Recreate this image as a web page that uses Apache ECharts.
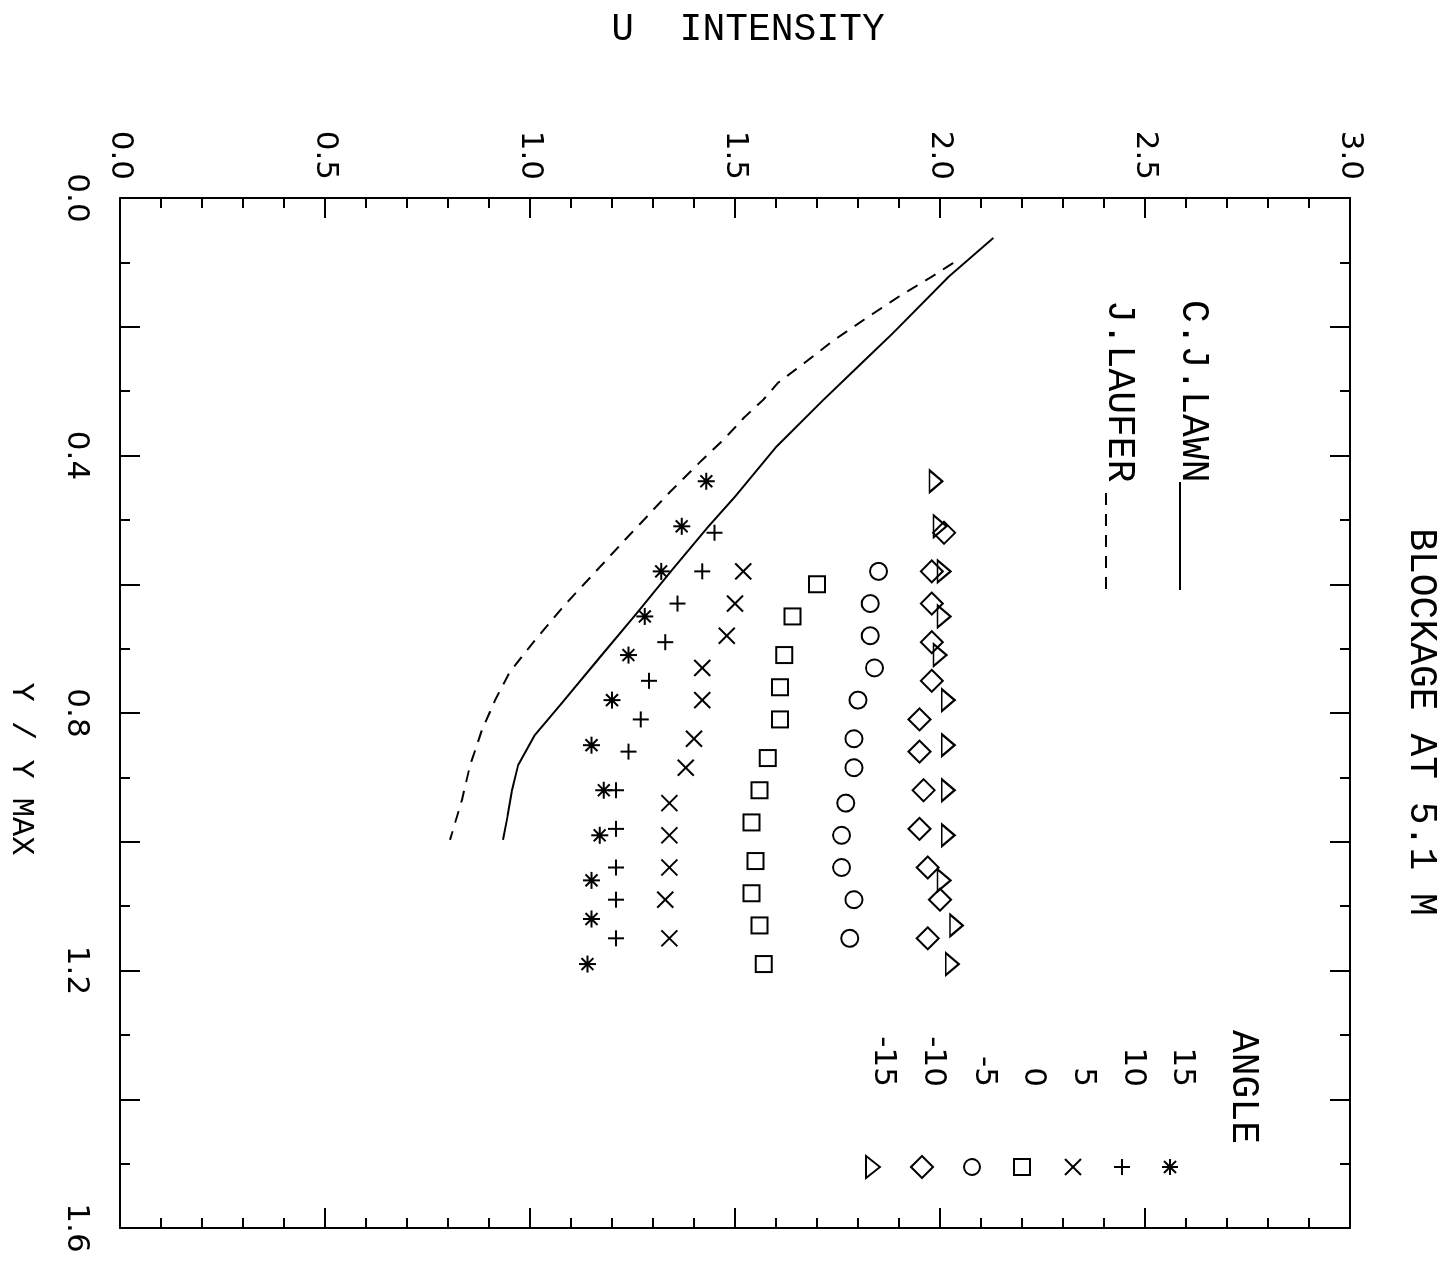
<!DOCTYPE html>
<html>
<head>
<meta charset="utf-8">
<script src="https://cdn.jsdelivr.net/npm/echarts@6/dist/echarts.min.js"></script>
<style>
  html, body { margin: 0; padding: 0; width: 1449px; height: 1267px; overflow: hidden; background: #fff; }
  /* the plot is laid out upright (Y/YMAX along x, U along y) and then turned a quarter-turn clockwise */
  #chart { position: absolute; left: 0; top: 0; width: 1267px; height: 1449px;
           transform-origin: 0 0; transform: translate(1449px, 0) rotate(90deg); }
</style>
</head>
<body>
<div id="chart"></div>
<script>
// ---- measured traverses: Y/YMAX position and U intensity, one pair per yaw angle ----
const ratio15  = [0.44, 0.51, 0.58, 0.65, 0.71, 0.78, 0.85, 0.92, 0.99, 1.06, 1.12, 1.19];
const u15      = [1.43, 1.37, 1.32, 1.28, 1.24, 1.20, 1.15, 1.18, 1.17, 1.15, 1.15, 1.14];
const ratio10  = [0.52, 0.58, 0.63, 0.69, 0.75, 0.81, 0.86, 0.92, 0.98, 1.04, 1.09, 1.15];
const u10      = [1.45, 1.42, 1.36, 1.33, 1.29, 1.27, 1.24, 1.21, 1.21, 1.21, 1.21, 1.21];
const ratio5   = [0.58, 0.63, 0.68, 0.73, 0.78, 0.84, 0.885, 0.94, 0.99, 1.04, 1.09, 1.15];
const u5       = [1.52, 1.50, 1.48, 1.42, 1.42, 1.40, 1.38, 1.34, 1.34, 1.34, 1.33, 1.34];
const ratio0   = [0.60, 0.65, 0.71, 0.76, 0.81, 0.87, 0.92, 0.97, 1.03, 1.08, 1.13, 1.19];
const u0       = [1.70, 1.64, 1.62, 1.61, 1.61, 1.58, 1.56, 1.54, 1.55, 1.54, 1.56, 1.57];
const ratioM5  = [0.58, 0.63, 0.68, 0.73, 0.78, 0.84, 0.885, 0.94, 0.99, 1.04, 1.09, 1.15];
const uM5      = [1.85, 1.83, 1.83, 1.84, 1.80, 1.79, 1.79, 1.77, 1.76, 1.76, 1.79, 1.78];
const ratioM10 = [0.52, 0.58, 0.63, 0.69, 0.75, 0.81, 0.86, 0.92, 0.98, 1.04, 1.09, 1.15];
const uM10     = [2.01, 1.98, 1.98, 1.98, 1.98, 1.95, 1.95, 1.96, 1.95, 1.97, 2.00, 1.97];
const ratioM15 = [0.44, 0.51, 0.58, 0.65, 0.71, 0.78, 0.85, 0.92, 0.99, 1.06, 1.13, 1.19];
const uM15     = [1.99, 2.00, 2.01, 2.01, 2.00, 2.02, 2.02, 2.02, 2.02, 2.01, 2.04, 2.03];

// ---- reference profiles ----
const lawnRatio   = [0.062, 0.123, 0.210, 0.259, 0.314, 0.387, 0.464, 0.511, 0.576, 0.646, 0.713, 0.788, 0.834, 0.881, 0.920, 0.958, 0.997];
const lawnU       = [2.13, 2.02, 1.885, 1.805, 1.715, 1.60, 1.50, 1.434, 1.349, 1.259, 1.171, 1.073, 1.012, 0.971, 0.956, 0.946, 0.934];
const lauferRatio = [0.101, 0.123, 0.151, 0.185, 0.221, 0.252, 0.287, 0.314, 0.340, 0.376, 0.410, 0.457, 0.539, 0.632, 0.687, 0.736, 0.780, 0.826, 0.881, 0.935, 0.997];
const lauferU     = [2.032, 1.978, 1.905, 1.824, 1.741, 1.678, 1.605, 1.568, 1.524, 1.471, 1.415, 1.341, 1.220, 1.085, 1.012, 0.951, 0.915, 0.883, 0.854, 0.834, 0.805];

// ---- axis / legend text ----
const ratioLabels = [0, 0.4, 0.8, 1.2, 1.6];
const angleNames  = ['15', '10', '5', '0', '-5', '-10', '-15'];
const uTitle = 'U  INTENSITY';
const ratioTitle = 'Y / Y MAX';
const plotTitle = 'BLOCKAGE AT 5.1 M';
const profileNames = ['C.J.LAWN', 'J.LAUFER'];

const FONT = 'Liberation Mono';   // lettering
const NUMFONT = 'DejaVu Sans';    // numerals (plain zero)
const INK = '#000';

const pair = (xs, ys) => xs.map((x, i) => [x, ys[i]]);

// marker shapes, stroked only
const SYM = {
  star:  'path://M0,5L10,5M5,0L5,10M1.5,1.5L8.5,8.5M8.5,1.5L1.5,8.5',
  plus:  'path://M0,5L10,5M5,0L5,10',
  cross: 'path://M0,0L10,10M10,0L0,10'
};
const markerDefs = [
  { data: pair(ratio15, u15),   symbol: SYM.star,   size: 17 },
  { data: pair(ratio10, u10),   symbol: SYM.plus,   size: 16 },
  { data: pair(ratio5, u5),     symbol: SYM.cross,  size: 16 },
  { data: pair(ratio0, u0),     symbol: 'rect',     size: 16 },
  { data: pair(ratioM5, uM5),   symbol: 'circle',   size: 17 },
  { data: pair(ratioM10, uM10), symbol: 'diamond',  size: 22 },
  { data: pair(ratioM15, uM15), symbol: 'triangle', size: [22, 13] }
];

const markerSeries = markerDefs.map((d, i) => ({
  type: 'scatter',
  name: angleNames[i],
  data: d.data,
  symbol: d.symbol,
  symbolSize: d.size,
  itemStyle: { color: 'rgba(0,0,0,0)', borderColor: INK, borderWidth: 2, opacity: 1 },
  silent: true,
  z: 3
}));

const lineSeries = [
  { type: 'line', name: profileNames[0], data: pair(lawnRatio, lawnU), symbol: 'none', silent: true,
    lineStyle: { color: INK, width: 2 } },
  { type: 'line', name: profileNames[1], data: pair(lauferRatio, lauferU), symbol: 'none', silent: true,
    lineStyle: { color: INK, width: 2, type: [12, 9] } }
];

// axis pieces shared by the labelled and the mirrored sides
const lineCfg = { show: true, onZero: false, lineStyle: { color: INK, width: 2 } };
function ratioAxis(pos, labelled) {
  return {
    type: 'value', position: pos, min: 0, max: 1.6, interval: 0.2,
    axisLine: lineCfg,
    axisTick: { show: true, inside: true, length: 20, lineStyle: { color: INK, width: 2 } },
    minorTick: { show: true, splitNumber: 2, length: 10, lineStyle: { color: INK, width: 2 } },
    splitLine: { show: false },
    axisLabel: {
      show: labelled, margin: 28, color: INK, fontFamily: NUMFONT, fontSize: 31,
      formatter: v => ratioLabels.some(l => Math.abs(l - v) < 1e-6) ? v.toFixed(1) : ''
    }
  };
}
function uAxis(pos, labelled) {
  return {
    type: 'value', position: pos, min: 0, max: 3, interval: 0.5,
    axisLine: lineCfg,
    axisTick: { show: true, inside: true, length: 20, lineStyle: { color: INK, width: 2 } },
    minorTick: { show: true, splitNumber: 5, length: 10, lineStyle: { color: INK, width: 2 } },
    splitLine: { show: false },
    axisLabel: { show: labelled, margin: 18, color: INK, fontFamily: NUMFONT, fontSize: 31,
                 formatter: v => v.toFixed(1) }
  };
}

// legend glyphs drawn with plain shapes
const gStyle = { fill: 'none', stroke: INK, lineWidth: 2 };
function seg(x1, y1, x2, y2) { return { type: 'line', shape: { x1, y1, x2, y2 }, style: gStyle }; }
function glyph(kind, cx, cy) {
  const h = 8;
  switch (kind) {
    case 'star': {
      const d = 6;
      return { type: 'group', children: [seg(cx - h, cy, cx + h, cy), seg(cx, cy - h, cx, cy + h),
        seg(cx - d, cy - d, cx + d, cy + d), seg(cx + d, cy - d, cx - d, cy + d)] };
    }
    case 'plus':  return { type: 'group', children: [seg(cx - h, cy, cx + h, cy), seg(cx, cy - h, cx, cy + h)] };
    case 'cross': return { type: 'group', children: [seg(cx - h, cy - h, cx + h, cy + h), seg(cx + h, cy - h, cx - h, cy + h)] };
    case 'rect':  return { type: 'rect', shape: { x: cx - h, y: cy - h, width: 2 * h, height: 2 * h }, style: gStyle };
    case 'circle': return { type: 'circle', shape: { cx, cy, r: h }, style: gStyle };
    case 'diamond': return { type: 'polygon', shape: { points: [[cx, cy - 11], [cx + 11, cy], [cx, cy + 11], [cx - 11, cy]] }, style: gStyle };
    case 'triangle': return { type: 'polygon', shape: { points: [[cx, cy - 7], [cx + 11, cy + 7], [cx - 11, cy + 7]] }, style: gStyle };
  }
}
function txt(text, x, y, size, align, rotation, family) {
  return { type: 'text', x, y, rotation: rotation || 0,
    style: { text, fill: INK, font: size + 'px "' + (family || FONT) + '"',
             align, verticalAlign: 'middle', textAlign: align, textVerticalAlign: 'middle' } };
}

const glyphKinds = ['star', 'plus', 'cross', 'rect', 'circle', 'diamond', 'triangle'];
const rowY   = [267, 316, 366, 416, 465, 516, 566];
const glyphY = [279, 327, 376, 427, 477, 527, 576];

const graphics = [
  txt(uTitle, 30, 701, 38, 'center', Math.PI / 2),
  txt(plotTitle, 722, 28, 38, 'center'),
  txt(ratioTitle, 769, 1428, 32, 'center'),
  txt(profileNames[0], 300, 256, 38, 'left'),
  seg(482, 269, 590, 269),
  txt(profileNames[1], 300, 330, 38, 'left'),
  { type: 'line', shape: { x1: 493, y1: 343, x2: 590, y2: 343 },
    style: { stroke: INK, lineWidth: 2, lineDash: [12, 9] } },
  txt('ANGLE', 1030, 206, 38, 'left')
];
angleNames.forEach((n, i) => {
  graphics.push(txt(n, 1087, rowY[i], 31, 'right', 0, NUMFONT));
  graphics.push(glyph(glyphKinds[i], 1167, glyphY[i]));
});

const chart = echarts.init(document.getElementById('chart'), null, { width: 1267, height: 1449 });
chart.setOption({
  animation: false,
  backgroundColor: '#fff',
  grid: { left: 198, right: 39, top: 99, bottom: 120, containLabel: false },
  xAxis: [ratioAxis('bottom', true), ratioAxis('top', false)],
  yAxis: [uAxis('left', true), uAxis('right', false)],
  series: lineSeries.concat(markerSeries),
  graphic: graphics
});
</script>
</body>
</html>
